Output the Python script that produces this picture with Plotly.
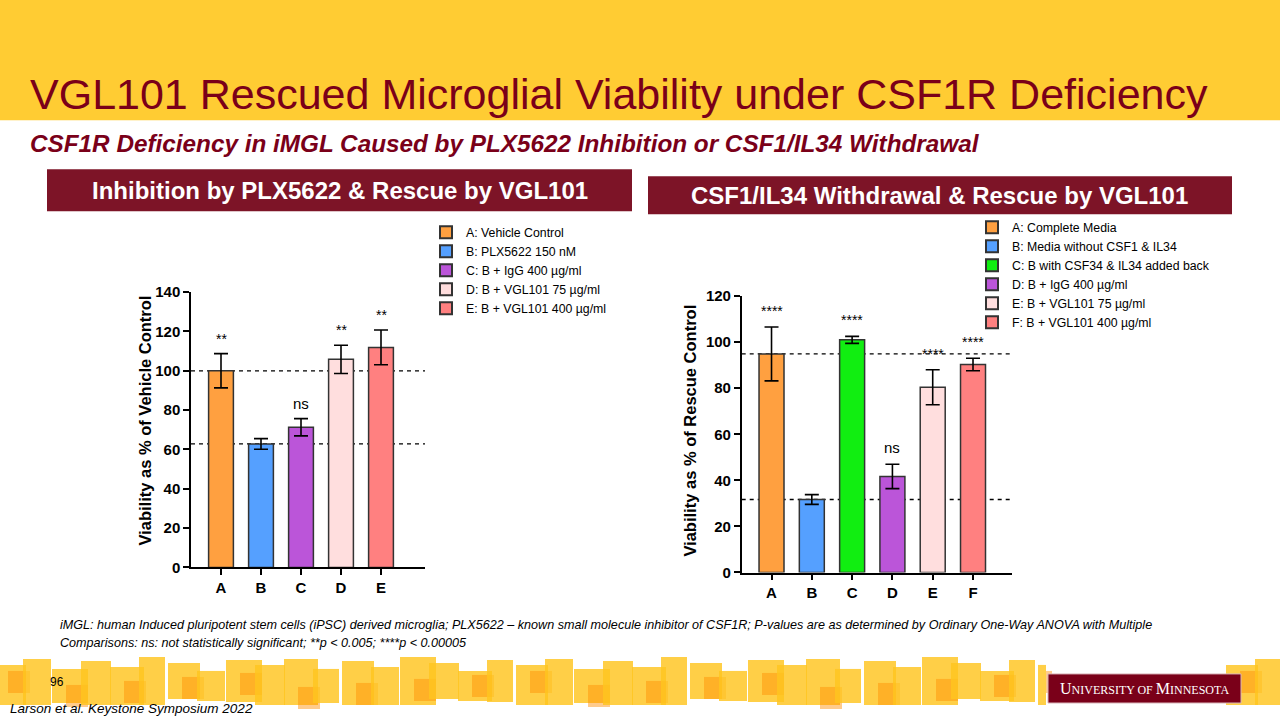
import plotly.graph_objects as go

# ---------------- data ----------------
left_cats = ["A", "B", "C", "D", "E"]
left_vals = [100.0, 62.8, 71.3, 105.8, 111.9]
left_errs = [8.7, 2.7, 4.4, 7.2, 8.8]
left_sig = ["**", "", "ns", "**", "**"]
left_names = ["A: Vehicle Control", "B: PLX5622 150 nM", "C: B + IgG 400 µg/ml",
              "D: B + VGL101 75 µg/ml", "E: B + VGL101 400 µg/ml"]
left_colors = ["#FFA040", "#55A0FF", "#BB55D9", "#FFDEDE", "#FF8080"]

right_cats = ["A", "B", "C", "D", "E", "F"]
right_vals = [94.9, 31.7, 101.0, 41.7, 80.4, 90.3]
right_errs = [11.7, 2.1, 1.5, 5.3, 7.6, 2.7]
right_sig = ["****", "", "****", "ns", "****", "****"]
right_names = ["A: Complete Media", "B: Media without CSF1 & IL34",
               "C: B with CSF34 & IL34 added back", "D: B + IgG 400 µg/ml",
               "E: B + VGL101 75 µg/ml", "F: B + VGL101 400 µg/ml"]
right_colors = ["#FFA040", "#55A0FF", "#11EE11", "#BB55D9", "#FFDEDE", "#FF8080"]

left_yticks = [0, 20, 40, 60, 80, 100, 120, 140]
right_yticks = [0, 20, 40, 60, 80, 100, 120]

# ---------------- helpers ----------------
W, H = 1280, 720
def px(x):
    return x / W
def py(y):
    # map a target screen y to paper coords (compensates the capture's vertical framing)
    return 1 - ((y - 9) / 0.975) / H

FONT = "Arial, Liberation Sans, sans-serif"
MAROON = "#7A0019"
BANNER = "#7D1427"

fig = go.Figure()

for i, c in enumerate(left_cats):
    fig.add_trace(go.Bar(
        x=[c], y=[left_vals[i]], name=left_names[i],
        error_y=dict(type="data", array=[left_errs[i]], symmetric=True,
                     color="black", thickness=1.6, width=7),
        marker=dict(color=left_colors[i], line=dict(color="#333333", width=1.5)),
        width=0.62, xaxis="x", yaxis="y", legend="legend"))

for i, c in enumerate(right_cats):
    fig.add_trace(go.Bar(
        x=[c], y=[right_vals[i]], name=right_names[i],
        error_y=dict(type="data", array=[right_errs[i]], symmetric=True,
                     color="black", thickness=1.6, width=7),
        marker=dict(color=right_colors[i], line=dict(color="#333333", width=1.5)),
        width=0.62, xaxis="x2", yaxis="y2", legend="legend2"))

axis_common = dict(showline=True, linecolor="black", linewidth=1.5, ticks="outside",
                   ticklen=6, tickwidth=1.5, tickcolor="black", showgrid=False,
                   zeroline=False, tickfont=dict(family=FONT, size=15, color="black", weight="bold"))

fig.update_layout(
    width=W, height=H, margin=dict(l=0, r=0, t=0, b=0), autosize=False,
    paper_bgcolor="white", plot_bgcolor="rgba(0,0,0,0)",
    barmode="overlay", showlegend=True,
    xaxis=dict(domain=[px(191), px(425)], type="category", categoryorder="array",
               categoryarray=left_cats, range=[-0.75, 5.1], anchor="y", **axis_common),
    yaxis=dict(domain=[py(566.7), py(291.7)], range=[0, 140], tickvals=left_yticks,
               anchor="x", **axis_common),
    xaxis2=dict(domain=[px(741.7), px(1011.7)], type="category", categoryorder="array",
                categoryarray=right_cats, range=[-0.74, 5.96], anchor="y2", **axis_common),
    yaxis2=dict(domain=[py(571.7), py(295.7)], range=[0, 120], tickvals=right_yticks,
                anchor="x2", **axis_common),
    legend=dict(x=px(426), y=py(217.5), xanchor="left", yanchor="top",
                bgcolor="rgba(0,0,0,0)", font=dict(family=FONT, size=12.3, color="black"),
                traceorder="normal", itemsizing="constant"),
    legend2=dict(x=px(972), y=py(212.5), xanchor="left", yanchor="top",
                 bgcolor="rgba(0,0,0,0)", font=dict(family=FONT, size=12.3, color="black"),
                 traceorder="normal", itemsizing="constant"),
)

shapes = []
# header band
shapes.append(dict(type="rect", xref="paper", yref="paper", x0=0, x1=1, y0=py(120), y1=1.02,
                   fillcolor="#FFCC33", line=dict(width=0), layer="below"))
# banners
shapes.append(dict(type="rect", xref="paper", yref="paper", x0=px(47), x1=px(632),
                   y0=py(211), y1=py(169), fillcolor=BANNER, line=dict(width=0), layer="below"))
shapes.append(dict(type="rect", xref="paper", yref="paper", x0=px(648), x1=px(1232),
                   y0=py(214), y1=py(176), fillcolor=BANNER, line=dict(width=0), layer="below"))
# reference dashed lines (levels of groups A and B)
for ref in (left_vals[0], left_vals[1]):
    shapes.append(dict(type="line", xref="x domain", yref="y", x0=0, x1=1, y0=ref, y1=ref,
                       line=dict(color="black", width=1.3, dash="4px,4px"), layer="below"))
for ref in (right_vals[0], right_vals[1]):
    shapes.append(dict(type="line", xref="x2 domain", yref="y2", x0=0, x1=1, y0=ref, y1=ref,
                       line=dict(color="black", width=1.3, dash="4px,4px"), layer="below"))

# decorative bottom squares
yc = [4, -2, 8, 0, 6, -4, 2, 10, -1]
hc = [40, 46, 34, 44, 38, 48, 36, 30, 42]
wc = [32, 28, 36, 30, 34, 26]
def deco(x_start, x_end):
    k = 0
    x = x_start
    while x < x_end:
        top = 660 + yc[k % len(yc)]
        h = hc[k % len(hc)]
        w = wc[k % len(wc)]
        shapes.append(dict(type="rect", xref="paper", yref="paper", x0=px(x), x1=px(min(x + w, x_end + 6)),
                           y0=py(min(top + h, 712)), y1=py(top),
                           fillcolor="rgba(255,196,30,0.82)", line=dict(width=0), layer="below"))
        if k % 2 == 0:
            ot = 670 + (k * 7) % 18
            shapes.append(dict(type="rect", xref="paper", yref="paper", x0=px(x + 14),
                               x1=px(min(x + 36, x_end + 6)), y0=py(ot + 22), y1=py(ot),
                               fillcolor="rgba(255,140,0,0.45)", line=dict(width=0), layer="below"))
        x += 29
        k += 1
deco(-6, 1040)
deco(1226, 1284)
# logo box
shapes.append(dict(type="rect", xref="paper", yref="paper", x0=px(1048), x1=px(1241),
                   y0=py(702), y1=py(673), fillcolor=MAROON,
                   line=dict(color="#D9B3B8", width=1), layer="above"))
fig.update_layout(shapes=shapes)

ann = []
def A(text, x, y, size, color="black", xanchor="left", yanchor="middle", bold=False,
      italic=False, angle=0, family=FONT):
    ann.append(dict(text=text, x=px(x), y=py(y), xref="paper", yref="paper",
                    xanchor=xanchor, yanchor=yanchor, showarrow=False, textangle=angle,
                    font=dict(family=family, size=size, color=color,
                              weight="bold" if bold else "normal",
                              style="italic" if italic else "normal")))

A("VGL101 Rescued Microglial Viability under CSF1R Deficiency", 28, 94, 43, MAROON)
A("CSF1R Deficiency in iMGL Caused by PLX5622 Inhibition or CSF1/IL34 Withdrawal",
  28, 143, 24.3, MAROON, bold=True, italic=True)
A("Inhibition by PLX5622 & Rescue by VGL101", 340, 190, 24, "white", xanchor="center", bold=True)
A("CSF1/IL34 Withdrawal & Rescue by VGL101", 939, 195, 24, "white", xanchor="center", bold=True)
A("Viability as % of Vehicle Control", 145, 420, 16.5, "black", xanchor="center", bold=True, angle=-90)
A("Viability as % of Rescue Control", 690, 430, 16.5, "black", xanchor="center", bold=True, angle=-90)
A("iMGL: human Induced pluripotent stem cells (iPSC) derived microglia; PLX5622 – known small "
  "molecule inhibitor of CSF1R; P-values are as determined by Ordinary One-Way ANOVA with Multiple",
  58, 624, 12.6, "black", italic=True)
A("Comparisons: ns: not statistically significant; **p < 0.005; ****p < 0.00005",
  58, 642, 12.6, "black", italic=True)
A("96", 48, 681, 12, "black")
A("Larson et al. Keystone Symposium 2022", 8, 708, 13.5, "black", italic=True)
A("U<span style='font-size:12px'>NIVERSITY OF </span>M<span style='font-size:12px'>INNESOTA</span>",
  1144.5, 688, 16, "white", xanchor="center", family="Liberation Serif, Times New Roman, serif")

# significance labels
for i, s in enumerate(left_sig):
    if s:
        ann.append(dict(text=s, x=left_cats[i], y=left_vals[i] + left_errs[i], xref="x", yref="y",
                        yanchor="bottom", yshift=5, showarrow=False,
                        font=dict(family=FONT, size=15 if s == "ns" else 14, color="black")))
for i, s in enumerate(right_sig):
    if s:
        ann.append(dict(text=s, x=right_cats[i], y=right_vals[i] + right_errs[i], xref="x2", yref="y2",
                        yanchor="bottom", yshift=6, showarrow=False,
                        font=dict(family=FONT, size=15 if s == "ns" else 14, color="black")))

fig.update_layout(annotations=ann)

post = (
    "document.documentElement.style.margin='0';"
    "document.documentElement.style.overflow='hidden';"
    "document.body.style.margin='0';"
    "document.body.style.overflow='hidden';"
    "var gd=document.getElementsByClassName('plotly-graph-div')[0];"
    "gd.style.position='fixed';gd.style.left='0px';gd.style.top='0px';"
)
fig.write_html("out.html", config={"responsive": False, "displayModeBar": False},
               post_script=post)
